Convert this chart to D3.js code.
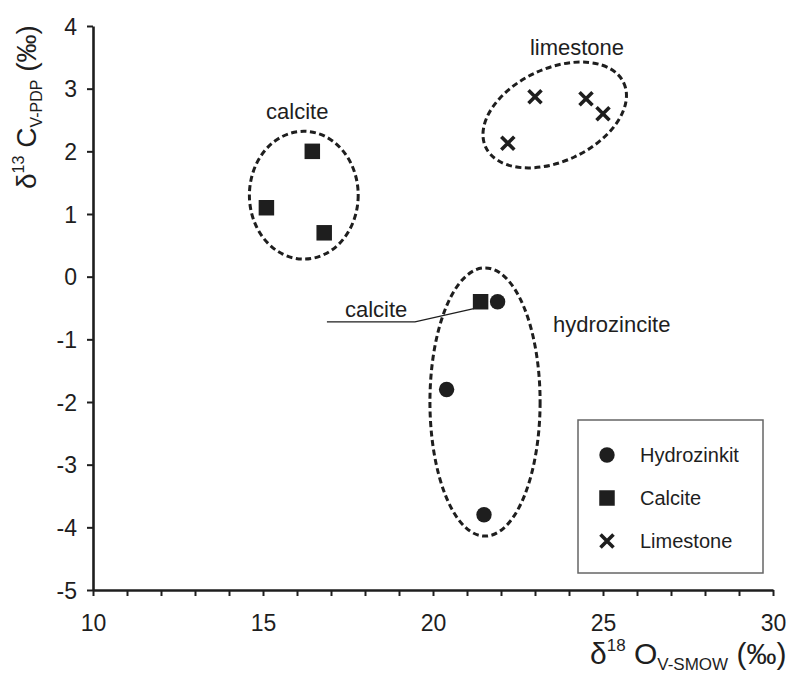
<!DOCTYPE html>
<html>
<head>
<meta charset="utf-8">
<script src="https://cdn.jsdelivr.net/npm/d3@7/dist/d3.min.js"></script>
<style>
  html, body { margin: 0; padding: 0; background: #fff; }
  svg { display: block; font-family: "Liberation Sans", Arial, Helvetica, sans-serif; }
</style>
</head>
<body>
<svg id="chart" width="792" height="674"></svg>
<script>
// Isotope data: δ18O (V-SMOW, ‰) vs δ13C (V-PDB, ‰)
const hydrozinkitO = [21.9, 20.4, 21.5];
const hydrozinkitC = [-0.4, -1.8, -3.8];
const calciteO = [16.45, 15.1, 16.8, 21.4];
const calciteC = [2.0, 1.1, 0.7, -0.4];
const limestoneO = [23.0, 24.5, 25.0, 22.2];
const limestoneC = [2.87, 2.84, 2.6, 2.13];

const xTicks = d3.range(10, 31, 1);
const xTickLabels = [10, 15, 20, 25, 30];
const yTicks = d3.range(-5, 5, 1);

const legendNames = ["Hydrozinkit", "Calcite", "Limestone"];

// Group outlines (data units: centre, semi-axes, rotation in degrees)
const groupCx = [16.2, 23.58, 21.53];
const groupCy = [1.3, 2.58, -2.0];
const groupRx = [1.6, 2.24, 1.62];
const groupRy = [1.02, 0.74, 2.14];
const groupAngle = [0, -25, 0];

// Group labels (data coordinates of text start / baseline)
const labelText = ["calcite", "limestone", "hydrozincite", "calcite"];
const labelX = [15.09, 22.85, 23.53, 17.41];
const labelY = [2.52, 3.54, -0.89, -0.65];

// Leader line from the lower "calcite" label to its sample
const leaderX = [16.88, 19.47, 21.2];
const leaderY = [-0.72, -0.72, -0.51];

const svg = d3.select("#chart");
const ink = "#1e1e1e";

const x = d3.scaleLinear().domain([10, 30]).range([93, 773]);
const y = d3.scaleLinear().domain([-5, 4]).range([590, 26]);

// Axes
const yAxis = svg.append("g")
  .attr("transform", `translate(${x(10)},0)`)
  .call(d3.axisLeft(y).tickValues(yTicks).tickSize(6).tickSizeOuter(0).tickPadding(10)
    .tickFormat(d => d));
const xAxis = svg.append("g")
  .attr("transform", `translate(0,${y(-5)})`)
  .call(d3.axisBottom(x).tickValues(xTicks).tickSize(6).tickSizeOuter(0).tickPadding(19)
    .tickFormat(d => xTickLabels.includes(d) ? d : ""));

[yAxis, xAxis].forEach(g => {
  g.select(".domain").attr("stroke", ink).attr("stroke-width", 2.6);
  g.selectAll(".tick line").attr("stroke", ink).attr("stroke-width", 2);
  g.selectAll(".tick text").attr("fill", ink).attr("font-size", 23)
    .attr("font-family", "Liberation Sans, Arial, sans-serif");
});
yAxis.selectAll(".tick text").attr("dy", "0.36em");

// Axis titles
const yTitle = svg.append("text")
  .attr("transform", `translate(36,189) rotate(-90)`)
  .attr("fill", ink).attr("font-size", 28);
yTitle.append("tspan").text("δ");
yTitle.append("tspan").attr("font-size", 16).attr("dy", -12).text("13");
yTitle.append("tspan").attr("dy", 12).text(" C");
yTitle.append("tspan").attr("font-size", 16).attr("dy", 6).text("V-PDP");
yTitle.append("tspan").attr("dy", -6).text(" (‰)");

const xTitle = svg.append("text")
  .attr("x", 590).attr("y", 664)
  .attr("fill", ink).attr("font-size", 30);
xTitle.append("tspan").text("δ");
xTitle.append("tspan").attr("font-size", 17).attr("dy", -13).text("18");
xTitle.append("tspan").attr("dy", 13).text(" O");
xTitle.append("tspan").attr("font-size", 17).attr("dy", 6).text("V-SMOW");
xTitle.append("tspan").attr("dy", -6).text(" (‰)");

// Dashed group outlines
const pxPerX = x(11) - x(10);
const pxPerY = y(0) - y(1);
svg.append("g").selectAll("ellipse")
  .data(groupCx.map((cx, i) => ({cx, cy: groupCy[i], rx: groupRx[i], ry: groupRy[i], a: groupAngle[i]})))
  .join("ellipse")
  .attr("transform", d => `translate(${x(d.cx)},${y(d.cy)}) rotate(${d.a})`)
  .attr("rx", d => d.rx * pxPerX)
  .attr("ry", d => d.ry * pxPerY)
  .attr("fill", "none")
  .attr("stroke", ink)
  .attr("stroke-width", 3)
  .attr("stroke-dasharray", "6,3.5");

// Leader line
svg.append("path")
  .attr("d", d3.line().x(d => x(d[0])).y(d => y(d[1]))(leaderX.map((v, i) => [v, leaderY[i]])))
  .attr("fill", "none").attr("stroke", ink).attr("stroke-width", 1.2);

// Group labels
svg.append("g").selectAll("text")
  .data(labelText.map((t, i) => ({t, x: labelX[i], y: labelY[i]})))
  .join("text")
  .attr("x", d => x(d.x)).attr("y", d => y(d.y))
  .attr("fill", ink).attr("font-size", 22)
  .text(d => d.t);

// Marker shapes
const circleSym = d3.symbol().type(d3.symbolCircle).size(Math.PI * 7.7 * 7.7);
const squareSym = d3.symbol().type(d3.symbolSquare).size(15.5 * 15.5);
function drawCross(g, cx, cy) {
  const h = 6.5;
  g.append("path")
    .attr("d", `M${cx - h},${cy - h}L${cx + h},${cy + h}M${cx - h},${cy + h}L${cx + h},${cy - h}`)
    .attr("stroke", ink).attr("stroke-width", 3.6).attr("fill", "none");
}

const marks = svg.append("g");
marks.selectAll("path.hz")
  .data(hydrozinkitO.map((o, i) => [o, hydrozinkitC[i]]))
  .join("path").attr("class", "hz")
  .attr("d", circleSym)
  .attr("transform", d => `translate(${x(d[0])},${y(d[1])})`)
  .attr("fill", ink);
marks.selectAll("path.ca")
  .data(calciteO.map((o, i) => [o, calciteC[i]]))
  .join("path").attr("class", "ca")
  .attr("d", squareSym)
  .attr("transform", d => `translate(${x(d[0])},${y(d[1])})`)
  .attr("fill", ink);
limestoneO.forEach((o, i) => drawCross(marks, x(o), y(limestoneC[i])));

// Legend
const legend = svg.append("g").attr("transform", "translate(578,420)");
legend.append("rect")
  .attr("width", 185).attr("height", 153)
  .attr("fill", "#fff").attr("stroke", "#666").attr("stroke-width", 1.5);
legendNames.forEach((name, i) => {
  const cy = 35 + i * 43;
  if (i === 0) {
    legend.append("path").attr("d", circleSym).attr("transform", `translate(29,${cy})`).attr("fill", ink);
  } else if (i === 1) {
    legend.append("path").attr("d", squareSym).attr("transform", `translate(29,${cy})`).attr("fill", ink);
  } else {
    drawCross(legend, 29, cy);
  }
  legend.append("text")
    .attr("x", 62).attr("y", cy + 7)
    .attr("fill", ink).attr("font-size", 20)
    .text(name);
});
</script>
</body>
</html>
